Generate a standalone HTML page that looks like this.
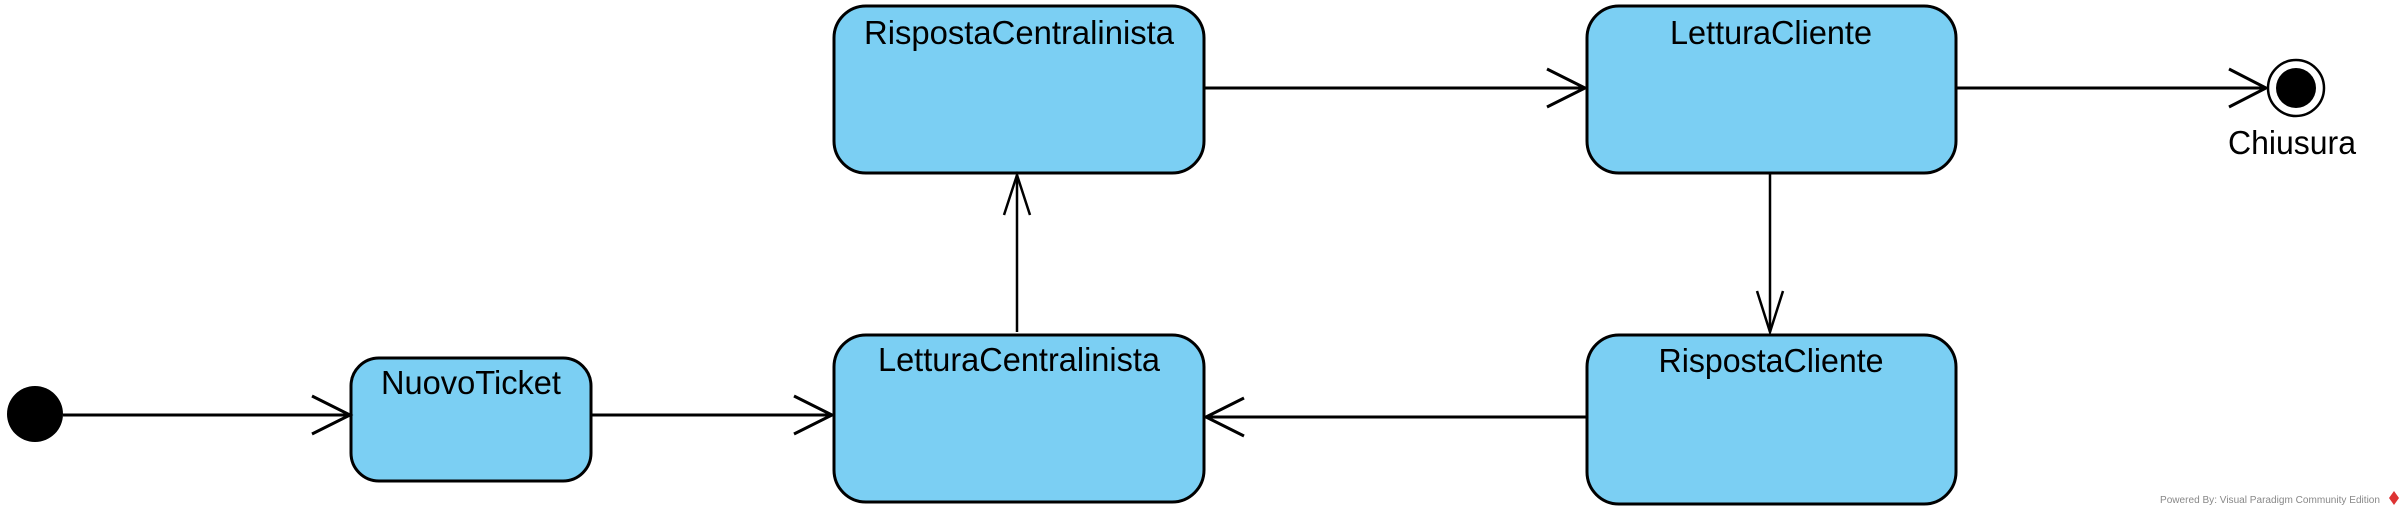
<!DOCTYPE html>
<html><head><meta charset="utf-8"><style>
html,body{margin:0;padding:0;background:#fff;}
svg{display:block;}
text{font-family:"Liberation Sans",Arial,sans-serif;}
</style></head><body>
<svg width="2403" height="513" viewBox="0 0 2403 513" xmlns="http://www.w3.org/2000/svg">
<g fill="#7BCFF3" stroke="#000" stroke-width="3">
<rect x="351" y="358" width="240" height="123" rx="28"/>
<rect x="834" y="335" width="370" height="167" rx="32"/>
<rect x="834" y="6" width="370" height="167" rx="32"/>
<rect x="1587" y="6" width="369" height="167" rx="32"/>
<rect x="1587" y="335" width="369" height="169" rx="32"/>
</g>
<g font-size="33" text-anchor="middle" fill="#000">
<text x="471" y="394" textLength="180" lengthAdjust="spacingAndGlyphs">NuovoTicket</text>
<text x="1019" y="371" textLength="282" lengthAdjust="spacingAndGlyphs">LetturaCentralinista</text>
<text x="1019" y="44" textLength="310" lengthAdjust="spacingAndGlyphs">RispostaCentralinista</text>
<text x="1771" y="44" textLength="202" lengthAdjust="spacingAndGlyphs">LetturaCliente</text>
<text x="1771" y="372" textLength="225" lengthAdjust="spacingAndGlyphs">RispostaCliente</text>
<text x="2292" y="154" textLength="128" lengthAdjust="spacingAndGlyphs">Chiusura</text>
</g>
<circle cx="35" cy="414" r="28" fill="#000"/>
<circle cx="2296" cy="88" r="28" fill="#fff" stroke="#000" stroke-width="2.5"/>
<circle cx="2296" cy="88" r="20" fill="#000"/>
<g stroke="#000" stroke-width="3" fill="none">
<line x1="63" y1="415" x2="350" y2="415"/>
<polyline points="312,396 350,415 312,434"/>
<line x1="591" y1="415" x2="832" y2="415"/>
<polyline points="794,396 832,415 794,434"/>
<line x1="1204" y1="88" x2="1585" y2="88"/>
<polyline points="1547,69 1585,88 1547,107"/>
<line x1="1956" y1="88" x2="2266" y2="88"/>
<polyline points="2229,69 2266,88 2229,107"/>
<line x1="1587" y1="417" x2="1206" y2="417"/>
<polyline points="1244,398 1206,417 1244,436"/>
</g>
<g stroke="#000" stroke-width="2.5" fill="none">
<line x1="1017" y1="332" x2="1017" y2="175"/>
<polyline points="1004,215 1017,175 1030,215"/>
<line x1="1770" y1="173" x2="1770" y2="332"/>
<polyline points="1757,291 1770,332 1783,291"/>
</g>
<text x="2160" y="503" font-size="10" fill="#888" textLength="220" lengthAdjust="spacingAndGlyphs">Powered By: Visual Paradigm Community Edition</text>
<path d="M2394 491 l5 7 -5 7 -5 -7z" fill="#d33"/>
</svg>
</body></html>
